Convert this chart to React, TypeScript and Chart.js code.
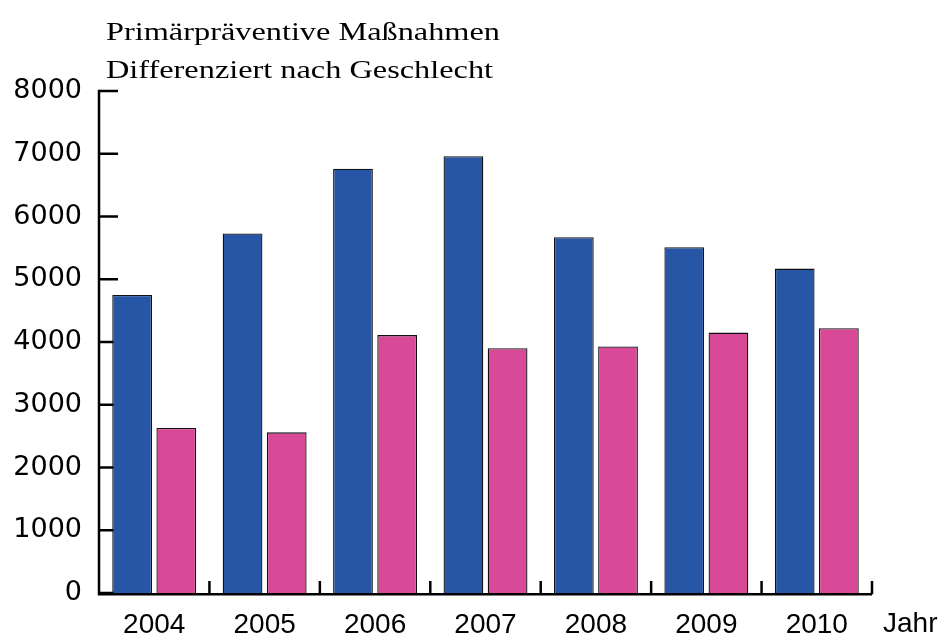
import React, { useEffect, useRef } from "react";
import { Chart, registerables } from "chart.js";

Chart.register(...registerables);

const years = ["2004", "2005", "2006", "2007", "2008", "2009", "2010"];
const seriesBlue = [4750, 5730, 6760, 6960, 5670, 5510, 5170];
const seriesPink = [2630, 2560, 4110, 3900, 3930, 4150, 4220];
const yTickValues = [0, 1000, 2000, 3000, 4000, 5000, 6000, 7000, 8000];
const titleLines = ["Primärpräventive Maßnahmen", "Differenziert nach Geschlecht"];
const xAxisLabel = "Jahr";

const decorPlugin = {
  id: "decor",
  beforeDatasetsDraw(chart: any) {
    const { ctx, chartArea, scales } = chart;
    const y = scales.y;
    ctx.save();
    ctx.strokeStyle = "#000";
    ctx.lineWidth = 2.5;
    ctx.lineCap = "butt";
    yTickValues.forEach((v) => {
      const py = y.getPixelForValue(v);
      ctx.beginPath();
      ctx.moveTo(chartArea.left, py);
      ctx.lineTo(chartArea.left + 19, py);
      ctx.stroke();
    });
    ctx.restore();
  },
  afterDatasetsDraw(chart: any) {
    const { ctx, chartArea, scales } = chart;
    const x = scales.x;
    const y = scales.y;
    ctx.save();
    ctx.strokeStyle = "#000";
    ctx.lineWidth = 2.5;
    const base = y.getPixelForValue(0);
    ctx.beginPath();
    ctx.moveTo(chartArea.left, y.getPixelForValue(8000) - 1.25);
    ctx.lineTo(chartArea.left, base + 1.25);
    ctx.lineTo(chartArea.right, base + 1.25);
    ctx.stroke();
    const n = years.length;
    for (let i = 1; i <= n; i++) {
      const px = (x.getPixelForValue(i - 1) + x.getPixelForValue(i)) / 2;
      const bx = i === n ? chartArea.right : px;
      ctx.beginPath();
      ctx.moveTo(bx, base + 1.25);
      ctx.lineTo(bx, base - 12);
      ctx.stroke();
    }
    ctx.fillStyle = "#000";
    ctx.font = "28px 'Liberation Sans', Arial, sans-serif";
    ctx.textBaseline = "alphabetic";
    ctx.textAlign = "left";
    ctx.fillText(xAxisLabel, 883, 632);
    // title, stretched horizontally to the original's width
    ctx.font = "26px 'Liberation Serif', 'DejaVu Serif', serif";
    const w0 = ctx.measureText(titleLines[0]).width;
    const sx = 394 / w0;
    ctx.save();
    ctx.translate(106, 0);
    ctx.scale(sx, 1);
    ctx.fillText(titleLines[0], 0, 40);
    ctx.fillText(titleLines[1], 0, 78);
    ctx.restore();
    ctx.restore();
  },
};

export default function App() {
  const ref = useRef<HTMLCanvasElement | null>(null);
  useEffect(() => {
    document.body.style.margin = "0";
    const canvas = ref.current!;
    const chart = new Chart(canvas, {
      type: "bar",
      data: {
        labels: years,
        datasets: [
          {
            label: "Männer",
            data: seriesBlue,
            backgroundColor: "#2856A6",
            borderColor: "#111",
            borderWidth: 1.3,
            borderSkipped: "bottom",
            categoryPercentage: 0.8,
            barPercentage: 0.9,
          },
          {
            label: "Frauen",
            data: seriesPink,
            backgroundColor: "#D84A98",
            borderColor: "#111",
            borderWidth: 1.3,
            borderSkipped: "bottom",
            categoryPercentage: 0.8,
            barPercentage: 0.9,
          },
        ],
      },
      options: {
        animation: false,
        responsive: false,
        maintainAspectRatio: false,
        layout: { padding: { top: 91, right: 66, left: 0, bottom: 0 } },
        plugins: {
          legend: { display: false },
          title: { display: false },
          tooltip: { enabled: false },
        },
        scales: {
          x: {
            grid: { display: false, drawTicks: false },
            border: { display: false },
            ticks: {
              color: "#000",
              font: { family: "'Liberation Sans', Arial, sans-serif", size: 28 },
              padding: 15,
              maxRotation: 0,
            },
            afterFit(scale: any) {
              scale.height = 42;
            },
          },
          y: {
            min: 0,
            max: 8000,
            grid: { display: false, drawTicks: false },
            border: { display: false },
            afterBuildTicks(scale: any) {
              scale.ticks = yTickValues.map((v) => ({ value: v }));
            },
            ticks: {
              color: "#000",
              font: { family: "'DejaVu Sans', sans-serif", size: 27 },
              padding: 17,
              callback: (v: any) => String(v),
            },
            afterFit(scale: any) {
              scale.width = 99;
            },
          },
        },
      },
      plugins: [decorPlugin],
    });
    return () => chart.destroy();
  }, []);
  return (
    <div style={{ width: 938, height: 635, position: "relative", background: "#fff" }}>
      <canvas ref={ref} width={938} height={635} style={{ display: "block" }} />
    </div>
  );
}
